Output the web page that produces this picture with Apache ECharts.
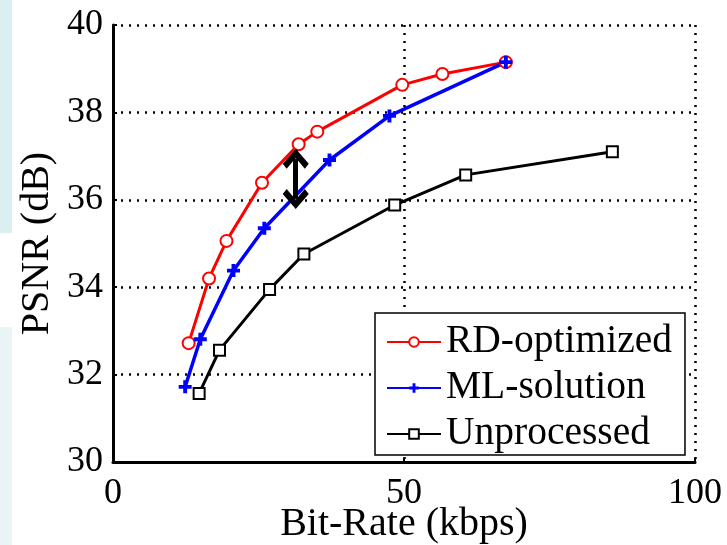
<!DOCTYPE html>
<html>
<head>
<meta charset="utf-8">
<script src="https://cdn.jsdelivr.net/npm/echarts@6/dist/echarts.min.js"></script>
<style>
  html, body { margin: 0; padding: 0; background: #fff; }
  #chart { width: 727px; height: 545px; }
</style>
</head>
<body>
<div id="chart"></div>
<script>
  // values: [bit-rate kbps, PSNR dB]
  const rdOptimized = [[13.0, 32.72], [16.5, 34.2], [19.5, 35.06], [25.6, 36.39], [31.9, 37.27], [35.1, 37.56], [49.7, 38.63], [56.6, 38.88], [67.5, 39.15]]
  const mlSolution = [[12.4, 31.72], [15.0, 32.81], [20.7, 34.38], [26.0, 35.35], [37.2, 36.91], [47.5, 37.92], [67.5, 39.15]]
  const unprocessed = [[14.8, 31.57], [18.3, 32.56], [26.9, 33.95], [32.8, 34.76], [48.4, 35.88], [60.6, 36.57], [85.8, 37.1]]
  const seriesNames = ['RD-optimized', 'ML-solution', 'Unprocessed']
  // gap arrow between the curves
  const gapArrow = [[31.4, 36.94], [31.4, 36.02]]

  const serif = 'Liberation Serif'
  const plusPath = 'path://M3.5,0 H6.5 V3.5 H10 V6.5 H6.5 V10 H3.5 V6.5 H0 V3.5 H3.5 Z'
  const chevron = 'path://M0,9 L10,0 L20,9 L17,12 L10,5.5 L3,12 Z'
  const dotted = { color: '#000', width: 2.5, type: [2, 6] }

  const chart = echarts.init(document.getElementById('chart'))
  chart.setOption({
    animation: false,
    backgroundColor: '#fff',
    graphic: [
      { type: 'rect', left: 0, top: 0, shape: { width: 12, height: 233 }, style: { fill: '#dbeff0' }, silent: true },
      { type: 'rect', left: 0, top: 327, shape: { width: 12, height: 218 }, style: { fill: '#eaf4f7' }, silent: true }
    ],
    grid: { left: 113, top: 25, right: 32, bottom: 83, containLabel: false, outerBoundsMode: 'none' },
    legend: {
      data: seriesNames,
      orient: 'vertical',
      left: 375,
      top: 313,
      padding: [8, 13, 0, 11],
      itemGap: 4,
      itemWidth: 54,
      itemHeight: 12,
      backgroundColor: '#fff',
      borderColor: '#000',
      borderWidth: 1.5,
      borderRadius: 0,
      textStyle: { fontFamily: serif, fontSize: 39.5, color: '#000', lineHeight: 42 }
    },
    xAxis: {
      type: 'value',
      min: 0,
      max: 100,
      interval: 50,
      name: 'Bit-Rate (kbps)',
      nameLocation: 'middle',
      nameGap: 42,
      nameMoveOverlap: false,
      nameTextStyle: { fontFamily: serif, fontSize: 40, color: '#000' },
      axisLine: { show: true, onZero: false, lineStyle: { color: '#000', width: 3 } },
      axisTick: { show: true, inside: true, length: 4, lineStyle: { color: '#000', width: 2 } },
      axisLabel: { fontFamily: serif, fontSize: 36, color: '#000', margin: 14 },
      splitLine: { show: true, lineStyle: dotted }
    },
    yAxis: {
      type: 'value',
      min: 30,
      max: 40,
      interval: 2,
      name: 'PSNR (dB)',
      nameLocation: 'middle',
      nameGap: 56,
      nameMoveOverlap: false,
      nameTextStyle: { fontFamily: serif, fontSize: 40, color: '#000' },
      axisLine: { show: true, onZero: false, lineStyle: { color: '#000', width: 3 } },
      axisTick: { show: true, inside: true, length: 4, lineStyle: { color: '#000', width: 2 } },
      axisLabel: { fontFamily: serif, fontSize: 36, color: '#000', margin: 10 },
      splitLine: { show: true, lineStyle: dotted }
    },
    series: [
      {
        name: seriesNames[0],
        type: 'line',
        data: rdOptimized,
        symbol: 'emptyCircle',
        symbolSize: 12,
        color: '#ff0000',
        lineStyle: { color: '#ff0000', width: 3 },
        itemStyle: { color: '#ff0000', borderWidth: 2.5 }
      },
      {
        name: seriesNames[1],
        type: 'line',
        data: mlSolution,
        symbol: plusPath,
        symbolSize: 13,
        color: '#0000ff',
        lineStyle: { color: '#0000ff', width: 3.5 },
        itemStyle: { color: '#0000ff' }
      },
      {
        name: seriesNames[2],
        type: 'line',
        data: unprocessed,
        symbol: 'emptyRect',
        symbolSize: 11,
        color: '#000',
        lineStyle: { color: '#000', width: 3 },
        itemStyle: { color: '#000', borderWidth: 3 }
      },
      {
        name: 'gap',
        type: 'line',
        data: [],
        silent: true,
        markLine: {
          silent: true,
          symbol: [chevron, chevron],
          symbolSize: [26, 20],
          label: { show: false },
          lineStyle: { color: '#000', width: 5, type: 'solid' },
          emphasis: { disabled: true },
          data: [[{ coord: gapArrow[0] }, { coord: gapArrow[1] }]]
        }
      }
    ]
  })
</script>
</body>
</html>
